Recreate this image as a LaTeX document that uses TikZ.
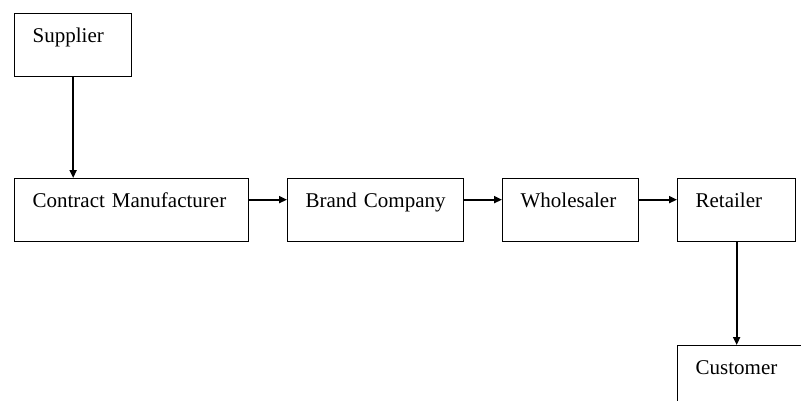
\documentclass[tikz,border=0pt]{standalone}
\usepackage{fontspec}
\setmainfont{Liberation Serif}
\usetikzlibrary{positioning,arrows.meta}

\begin{document}
\begin{tikzpicture}[x=1pt, y=-1pt,
    box/.style={draw, line width=1.3pt, anchor=north west, align=left,
                text width=#1, inner xsep=18pt, inner ysep=0pt,
                text height=29pt, text depth=34pt, font=\fontsize{21}{25}\selectfont},
    flow/.style={-{Triangle[length=8pt,width=7pt]}, line width=1.8pt}]
    \useasboundingbox (0,0) rectangle (801,400);
    \clip (0,0) rectangle (801,400);

    % 1. Boxes
    \node[box=81pt]  (supplier)     at (14,13)  {Supplier};
    \node[box=198pt] (manufacturer) at (14,178) {Contract Manufacturer};
    \node[box=140pt] (brand)        at (287,178) {Brand Company};
    \node[box=100pt] (wholesaler)   at (502,178) {Wholesaler};
    \node[box=82pt]  (retailer)     at (677,178) {Retailer};
    \node[box=200pt] (customer)     at (677,345) {Customer};

    % 2. Flow of goods
    \draw[flow] (supplier.south) -- (manufacturer.north -| supplier.south);
    \draw[flow] ([yshift=10.5pt]manufacturer.east) -- ([yshift=10.5pt]brand.west);
    \draw[flow] ([yshift=10.5pt]brand.east) -- ([yshift=10.5pt]wholesaler.west);
    \draw[flow] ([yshift=10.5pt]wholesaler.east) -- ([yshift=10.5pt]retailer.west);
    \draw[flow] (retailer.south) -- (retailer.south |- customer.north);
\end{tikzpicture}
\end{document}
